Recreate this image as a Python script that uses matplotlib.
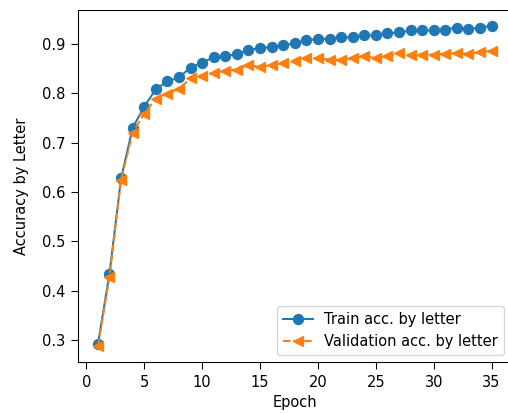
import numpy as np
import matplotlib.pyplot as plt

epochs = list(range(1, 36))

train_acc = [0.292, 0.435, 0.628, 0.730, 0.773, 0.808, 0.824, 0.832, 0.852, 0.862,
             0.873, 0.876, 0.879, 0.888, 0.891, 0.894, 0.897, 0.901, 0.907, 0.910,
             0.910, 0.913, 0.913, 0.917, 0.917, 0.921, 0.923, 0.927, 0.927, 0.927,
             0.929, 0.933, 0.930, 0.933, 0.937]

val_acc = [0.288, 0.428, 0.625, 0.720, 0.759, 0.789, 0.799, 0.809, 0.830, 0.834,
           0.841, 0.846, 0.848, 0.857, 0.853, 0.857, 0.861, 0.865, 0.871, 0.871,
           0.868, 0.868, 0.871, 0.875, 0.871, 0.875, 0.881, 0.878, 0.878, 0.878,
           0.880, 0.881, 0.880, 0.883, 0.886]

plt.rcParams['font.size'] = 11

dpi = 96
fig = plt.figure(figsize=(508 / dpi, 414 / dpi), dpi=dpi)
ax = fig.add_subplot(111)
# the right spine sits just outside the picture in the reference
fig.subplots_adjust(left=0.154, right=1.0065, top=0.977, bottom=0.125)

ax.plot(epochs, train_acc, 'o-', markersize=7.5, label='Train acc. by letter')
ax.plot(epochs, val_acc, '<--', markersize=7.5, label='Validation acc. by letter')

ax.tick_params(length=5, pad=4.5)
ax.set_xlabel('Epoch', labelpad=4)
ax.set_ylabel('Accuracy by Letter', labelpad=10)
ax.legend(loc='lower right', bbox_to_anchor=(1.0, 0.0))

fig.savefig('out.png', dpi=dpi)
